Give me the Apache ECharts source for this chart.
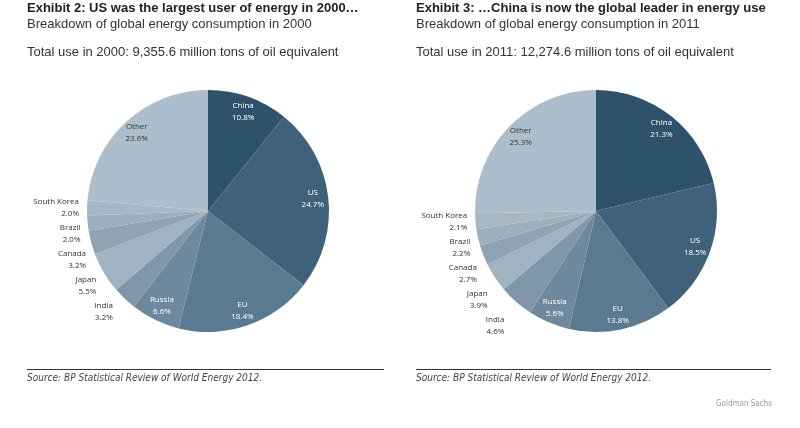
<!DOCTYPE html>
<html><head><meta charset="utf-8">
<script src="https://cdn.jsdelivr.net/npm/echarts@6/dist/echarts.min.js"></script>
<style>html,body{margin:0;padding:0;background:#fff}#c{width:800px;height:428px}</style>
</head><body><div id="c"></div>
<script>
const regions = ['China','US','EU','Russia','India','Japan','Canada','Brazil','South Korea','Other'];
const share2000 = [10.8,24.7,18.4,6.6,3.2,5.5,3.2,2.0,2.0,23.6];
const share2011 = [21.3,18.5,13.8,5.6,4.6,3.9,2.7,2.2,2.1,25.3];
const sliceColors = ['#2f526b','#3f6179','#5a7a91','#6e899d','#7f97a9','#a0b3c0','#8fa3b2','#9cafbc','#a7b8c4','#acbecb'];
const insideLabels = ['China','US','EU','Russia','Other'];
const whiteLabels = ['China','US','EU','Russia'];

const labelFont = 'Open Sans';
function baseData(vals){
  return regions.map((n,i)=>{
    const inside = insideLabels.includes(n);
    return {name:n, value:vals[i], itemStyle:{color:sliceColors[i]},
      label:{show:!inside}};
  });
}
function overlayData(vals){
  return regions.map((n,i)=>({name:n, value:vals[i],
    label:{show:insideLabels.includes(n), color: whiteLabels.includes(n)?'#ffffff':'#333333'}}));
}
function fmt(p){ return p.name + '\n' + p.value.toFixed(1) + '%'; }

function pieSeries(vals, cx){
  return [{
    type:'pie', center:[cx,211], radius:[0,121], startAngle:90, clockwise:true,
    silent:true, animation:false,
    itemStyle:{borderWidth:0},
    label:{position:'outside', formatter:fmt, fontFamily:labelFont, fontSize:8, color:'#333', lineHeight:12, align:'center'},
    labelLine:{show:false, length:4, length2:4},
    data: baseData(vals)
  },{
    type:'pie', center:[cx,211], radius:[84,121], startAngle:90, clockwise:true,
    silent:true, animation:false,
    itemStyle:{color:'rgba(0,0,0,0)', borderWidth:0},
    label:{position:'inside', formatter:fmt, fontFamily:labelFont, fontSize:8, lineHeight:12},
    labelLine:{show:false},
    data: overlayData(vals)
  }];
}

const chart = echarts.init(document.getElementById('c'), null, {renderer:'canvas'});
const titleFont = 'Liberation Sans';
const srcFont = "'DejaVu Sans Condensed', 'Liberation Sans', sans-serif";
function txt(x,y,t,style){ return {type:'text', left:x, top:y, style:Object.assign({text:t, fontFamily:titleFont, fill:'#222'}, style)}; }
chart.setOption({
  backgroundColor:'#ffffff',
  animation:false,
  graphic:[
    txt(27,1.5,'Exhibit 2: US was the largest user of energy in 2000…',{fontSize:13, fontWeight:'bold'}),
    txt(27,17.5,'Breakdown of global energy consumption in 2000',{fontSize:13, fill:'#333'}),
    txt(27,45.5,'Total use in 2000: 9,355.6 million tons of oil equivalent',{fontSize:13, fill:'#333'}),
    txt(416,1.5,'Exhibit 3: …China is now the global leader in energy use',{fontSize:13, fontWeight:'bold'}),
    txt(416,17.5,'Breakdown of global energy consumption in 2011',{fontSize:13, fill:'#333'}),
    txt(416,45.5,'Total use in 2011: 12,274.6 million tons of oil equivalent',{fontSize:13, fill:'#333'}),
    {type:'line', shape:{x1:27,y1:369.5,x2:384,y2:369.5}, style:{stroke:'#333', lineWidth:1}},
    {type:'line', shape:{x1:416,y1:369.5,x2:771,y2:369.5}, style:{stroke:'#333', lineWidth:1}},
    txt(27,373,'Source: BP Statistical Review of World Energy 2012.',{fontSize:10, fontStyle:'italic', fontFamily:srcFont, fill:'#444'}),
    txt(416,373,'Source: BP Statistical Review of World Energy 2012.',{fontSize:10, fontStyle:'italic', fontFamily:srcFont, fill:'#444'}),
    {type:'text', right:28, top:400, style:{text:'Goldman Sachs', fontFamily:srcFont, fontSize:8, fill:'#9a9a9a'}}
  ],
  series:[...pieSeries(share2000,208), ...pieSeries(share2011,596)]
});
</script></body></html>
